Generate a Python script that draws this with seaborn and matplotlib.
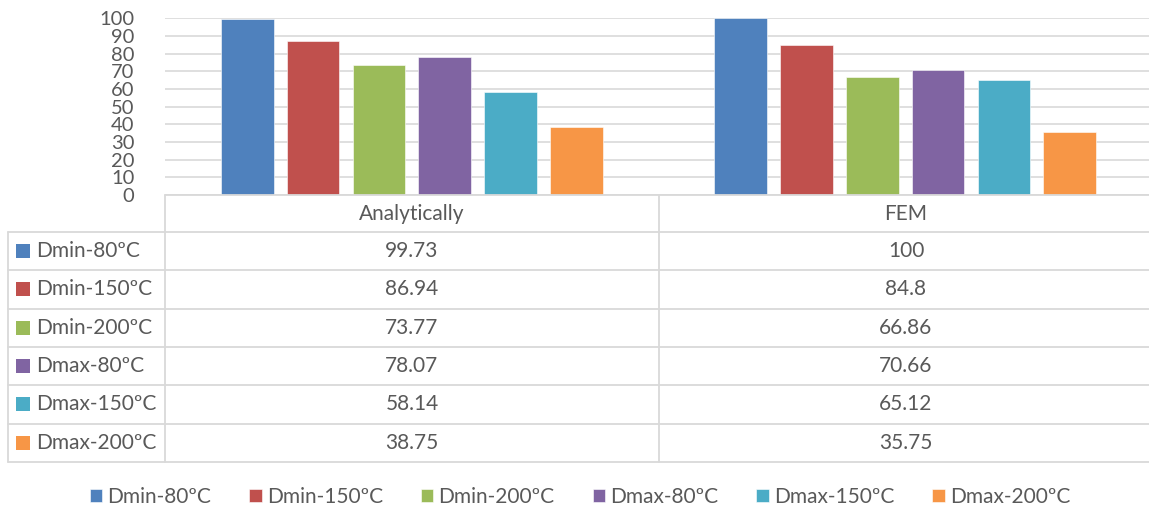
import matplotlib
matplotlib.use("Agg")
import matplotlib.pyplot as plt
from matplotlib.patches import Rectangle
import seaborn as sns
import pandas as pd

# Data
methods = ["Analytically", "FEM"]
series = ["Dmin-80ºC", "Dmin-150ºC", "Dmin-200ºC", "Dmax-80ºC", "Dmax-150ºC", "Dmax-200ºC"]
analytical = [99.73, 86.94, 73.77, 78.07, 58.14, 38.75]
fem = [100, 84.8, 66.86, 70.66, 65.12, 35.75]
value_labels_analytical = ["99.73", "86.94", "73.77", "78.07", "58.14", "38.75"]
value_labels_fem = ["100", "84.8", "66.86", "70.66", "65.12", "35.75"]
colors = ["#4F81BD", "#C0504D", "#9BBB59", "#8064A2", "#4BACC6", "#F79646"]

sns.set_theme(style="white")
plt.rcParams["font.family"] = ["Lato", "DejaVu Sans"]
TXT = "#595959"
GRID = "#D9D9D9"
FS = 15

df = pd.DataFrame({
    "method": [m for m in methods for _ in series],
    "series": series * 2,
    "value": analytical + fem,
})

W, H = 1149, 509
fig = plt.figure(figsize=(W / 100, H / 100), dpi=100)

# Chart area (pixel geometry converted to figure fractions)
left, right, top, bottom = 165, 1152, 18.3, 195
ax = fig.add_axes([left / W, 1 - bottom / H, (right - left) / W, (bottom - top) / H])
sns.barplot(data=df, x="method", y="value", hue="series", palette=colors,
            width=0.8, gap=0.2, ax=ax, saturation=1, legend=True,
            edgecolor="white", linewidth=0.4)
ax.set_xlim(-0.5, 1.5)
ax.set_ylim(0, 100)
ax.set_yticks(range(0, 101, 10))
ax.set_yticklabels([str(v) for v in range(0, 101, 10)], fontsize=14.5, color=TXT)
ax.tick_params(axis="y", length=0, pad=22)
ax.set_xticks([])
ax.set_xlabel("")
ax.set_ylabel("")
for s in ax.spines.values():
    s.set_visible(False)
ax.yaxis.grid(True, color=GRID, linewidth=1.2)
ax.set_axisbelow(True)

handles, labels = ax.get_legend_handles_labels()
ax.get_legend().remove()

# Data table overlay, drawn in pixel coordinates
ov = fig.add_axes([0, 0, 1, 1], facecolor="none")
ov.set_xlim(0, W)
ov.set_ylim(H, 0)
ov.axis("off")

row_y = [232, 270.3, 308.6, 346.9, 385.2, 423.5, 461.8]
tab_left, col1, col2, tab_right = 8, 165, 659, 1149
lw = 1.3
ov.plot([col1, tab_right], [195, 195], color=GRID, lw=lw)
for y in row_y:
    ov.plot([tab_left, tab_right], [y, y], color=GRID, lw=lw)
ov.plot([tab_left, tab_left], [row_y[0], row_y[-1]], color=GRID, lw=lw)
for x in (col1, col2):
    ov.plot([x, x], [195, row_y[-1]], color=GRID, lw=lw)

c1 = (col1 + col2) / 2
c2 = (col2 + (2 * col2 - col1)) / 2
ov.text(c1, (195 + row_y[0]) / 2, methods[0], ha="center", va="center", fontsize=FS, color=TXT)
ov.text(c2, (195 + row_y[0]) / 2, methods[1], ha="center", va="center", fontsize=FS, color=TXT)

for i, name in enumerate(series):
    yc = (row_y[i] + row_y[i + 1]) / 2
    ov.add_patch(Rectangle((16, yc - 7), 14, 14, color=colors[i], lw=0))
    ov.text(36, yc, name, ha="left", va="center", fontsize=FS, color=TXT)
    ov.text(c1, yc, value_labels_analytical[i], ha="center", va="center", fontsize=FS, color=TXT)
    ov.text(c2, yc, value_labels_fem[i], ha="center", va="center", fontsize=FS, color=TXT)

# Bottom legend
fig.legend(handles, labels, loc="center", bbox_to_anchor=(580 / W, 1 - 497 / H),
           ncol=6, frameon=False, fontsize=FS, labelcolor=TXT,
           handlelength=0.6, handleheight=0.6, handletextpad=0.25,
           columnspacing=1.82, borderaxespad=0)

fig.savefig("out.png", dpi=100)
